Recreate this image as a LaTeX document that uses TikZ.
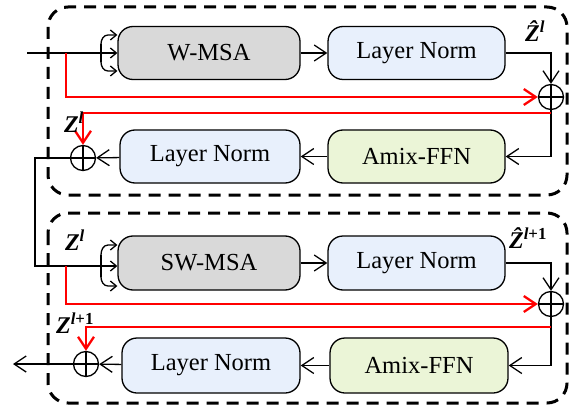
\documentclass[tikz,border=0pt]{standalone}
\usepackage{fontspec}
\setmainfont{Liberation Serif}
\usetikzlibrary{arrows.meta}
\definecolor{msagray}{RGB}{217,217,217}
\definecolor{normblue}{RGB}{232,240,252}
\definecolor{ffngreen}{RGB}{235,245,215}
\newcommand{\bi}[1]{\textbf{\textit{#1}}}
\begin{document}
\begin{tikzpicture}[x=1pt, y=-1pt, line width=1.3pt,
    >={Straight Barb[length=12pt,width=16pt]},
    blk/.style={draw, rounded corners=15pt, minimum height=53pt, inner sep=0pt,
        font=\fontsize{24.5}{28}\selectfont},
    plus/.style={draw, circle, minimum size=25pt, inner sep=0pt,
        path picture={\draw (path picture bounding box.north) -- (path picture bounding box.south)
            (path picture bounding box.west) -- (path picture bounding box.east);}},
    res/.style={red, line width=2.3pt},
    grp/.style={dashed, line width=3pt, dash pattern=on 12pt off 8pt, rounded corners=20pt},
    lbl/.style={font=\fontsize{24}{28}\selectfont, inner sep=0pt},
    fork/.style={->, >={Straight Barb[length=6pt,width=10pt]}}]
    \useasboundingbox (0,0) rectangle (569,406);
    % dashed groups
    \draw[grp] (48,7) rectangle (567,195);
    \draw[grp] (48,213) rectangle (567,403);
    % first block
    \node[blk, fill=msagray, minimum width=182pt] (msa1) at (209,53) {W-MSA};
    \node[blk, fill=normblue, minimum width=177pt] (ln1) at (416.5,53) {Layer Norm};
    \node[blk, fill=ffngreen, minimum width=177pt] (ffn1) at (416.5,156.5) {Amix-FFN};
    \node[blk, fill=normblue, minimum width=180pt] (ln2) at (210,156.5) {Layer Norm};
    \node[plus] (p1) at (551,97) {};
    \node[plus] (p2) at (83,158) {};
    \coordinate (in1) at (27,53);
    \coordinate (tap1) at (66,53);
    \coordinate (br1) at (551,113);
    \draw (in1) -- (101,53);
    \draw[fork] (101,53) -- (msa1.west);
    \draw (101,44) -- (101,62);
    \draw[fork] (101,44) to[out=90,in=180] (108,35) -- (msa1.west |- 0,35);
    \draw[fork] (101,62) to[out=-90,in=180] (108,71) -- (msa1.west |- 0,71);
    \draw[->] (msa1) -- (ln1);
    \draw[->] (ln1.east) -| (p1.north);
    \draw[->] (p1.south) |- (ffn1.east);
    \draw[->] (ffn1) -- (ln2);
    \draw[->] (ln2) -- (p2);
    \draw[res, ->] (tap1) |- (p1.west);
    \draw[res, ->] (br1) -| (p2.north);
    \node[lbl] (zh1) at (535,31) {\bi{\^{Z}}\textsuperscript{\bi{l}}};
    \node[lbl] (z1) at (74,122) {\bi{Z}\textsuperscript{\bi{l}}};
    % second block
    \node[blk, fill=msagray, minimum width=182pt, minimum height=54pt] (msa2) at (209,263) {SW-MSA};
    \node[blk, fill=normblue, minimum width=177pt, minimum height=54pt] (ln3) at (416.5,263) {Layer Norm};
    \node[blk, fill=ffngreen, minimum width=178pt, minimum height=55pt] (ffn2) at (419,365.5) {Amix-FFN};
    \node[blk, fill=normblue, minimum width=178pt, minimum height=55pt] (ln4) at (211,365.5) {Layer Norm};
    \node[plus] (p3) at (551,304) {};
    \node[plus] (p4) at (86,364) {};
    \coordinate (tap2) at (66,266);
    \coordinate (br2) at (551,327);
    \coordinate (out) at (13,364);
    \draw (p2.west) -- (35,158) -- (35,266) -- (101,266);
    \draw[fork] (101,266) -- (msa2.west |- 0,266);
    \draw (101,255) -- (101,277);
    \draw[fork] (101,255) to[out=90,in=180] (108,245) -- (msa2.west |- 0,245);
    \draw[fork] (101,277) to[out=-90,in=180] (108,286) -- (msa2.west |- 0,286);
    \draw[->] (msa2) -- (ln3);
    \draw[->] (ln3.east) -| (p3.north);
    \draw[->] (p3.south) |- (ffn2.east);
    \draw[->] (ffn2) -- (ln4);
    \draw[->] (ln4) -- (p4);
    \draw[->] (p4) -- (out);
    \draw[res, ->] (tap2) |- (p3.west);
    \draw[res, ->] (br2) -| (p4.north);
    \node[lbl] (zh2) at (528,238) {\bi{\^{Z}}\textsuperscript{\bi{l}\textbf{+1}}};
    \node[lbl] (z2) at (75,240) {\bi{Z}\textsuperscript{\bi{l}}};
    \node[lbl] (z3) at (75,323) {\bi{Z}\textsuperscript{\bi{l}\textbf{+1}}};
\end{tikzpicture}
\end{document}
